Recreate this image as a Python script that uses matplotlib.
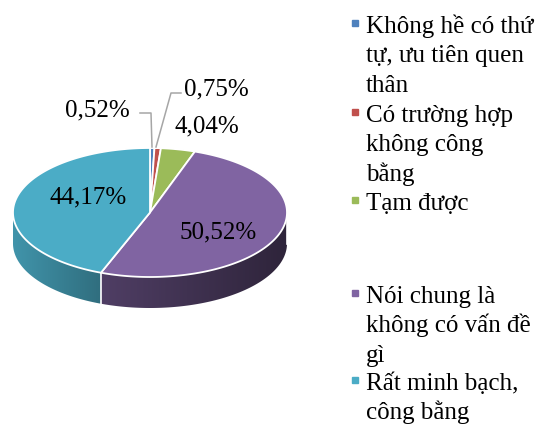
import numpy as np
import matplotlib
matplotlib.use("Agg")
import matplotlib.pyplot as plt
from matplotlib.colors import to_rgb

plt.rcParams['font.family'] = ['Liberation Serif', 'DejaVu Serif']

# data
labels = ["Không hề có thứ\ntự, ưu tiên quen\nthân",
          "Có trường hợp\nkhông công\nbằng",
          "Tạm được",
          "Nói chung là\nkhông có vấn đề\ngì",
          "Rất minh bạch,\ncông bằng"]
values = [0.52, 0.75, 4.04, 50.52, 44.17]
pct_text = ["0,52%", "0,75%", "4,04%", "50,52%", "44,17%"]
colors = ["#4F81BD", "#C0504D", "#9BBB59", "#8064A2", "#4BACC6"]

# layout (pixels)
W, H = 555, 429
cx, cy, rx, ry, depth = 150, 212.5, 137, 64.5, 31
label_pos = [(97, 116), (216, 95), (207, 132), (218, 238), (88, 203)]
leaders = {0: [(140, 113), (151, 113), (152, 147)],
           1: [(181, 93), (171, 93), (156, 147)]}
legend_x, legend_base = 366, [33, 122, 210, 303, 390]
line_h = 29.4

fig = plt.figure(figsize=(W / 100, H / 100), dpi=100)
ax = fig.add_axes([0, 0, 1, 1])
ax.set_xlim(0, W)
ax.set_ylim(H, 0)
ax.axis('off')


def ell(t):
    t = np.radians(t)
    return cx + rx * np.sin(t), cy - ry * np.cos(t)


total = sum(values)
bounds = np.concatenate([[0], np.cumsum(values) / total * 360])

# sides (front half only), gradient darker to the right
shade = {3: (0.62, 0.36), 4: (0.86, 0.64)}
for i in range(len(values)):
    a, b = max(bounds[i], 90), min(bounds[i + 1], 270)
    if a >= b:
        continue
    f0, f1 = shade.get(i, (0.7, 0.5))
    base = np.array(to_rgb(colors[i]))
    ts = np.linspace(a, b, 120)
    xs, ys = ell(ts)
    poly_x = np.r_[xs, xs[::-1]]
    poly_y = np.r_[ys, ys[::-1] + depth]
    patch = ax.fill(poly_x, poly_y, color='none', lw=0, zorder=1)[0]
    x0, x1 = xs.min(), xs.max()
    fr = np.linspace(0, 1, 256)
    if i == 4:
        fr = fr  # left bright -> right dark
    grad = base[None, None, :] * (f0 + (f1 - f0) * fr)[None, :, None]
    im = ax.imshow(grad, extent=(x0, x1, ys.max() + depth, ys.min()),
                   aspect='auto', interpolation='bilinear', zorder=1)
    im.set_clip_path(patch)
    xa, ya = ell(a)
    ax.plot([xa, xa], [ya, ya + depth], color='white', lw=1.2, zorder=1.5)

ax.set_xlim(0, W)
ax.set_ylim(H, 0)

# top faces
for i in range(len(values)):
    ts = np.linspace(bounds[i], bounds[i + 1], max(int(values[i] * 4), 4))
    xs, ys = ell(ts)
    ax.fill(np.r_[cx, xs], np.r_[cy, ys], color=colors[i], ec='white', lw=1.3,
            joinstyle='round', zorder=2)

# percentage labels
for i in range(len(values)):
    x, y = label_pos[i]
    ax.text(x, y, pct_text[i], fontsize=18, ha='center', va='baseline',
            color='black', zorder=4)
for i, pts in leaders.items():
    xs, ys = zip(*pts)
    ax.plot(xs, ys, color='#A6A6A6', lw=1.1, zorder=3)

# legend
for i, lab in enumerate(labels):
    b = legend_base[i]
    ax.add_patch(plt.Rectangle((352, b - 13.5), 6, 6, color=colors[i], zorder=3))
    for j, line in enumerate(lab.split("\n")):
        ax.text(legend_x, b + j * line_h, line, fontsize=18, ha='left',
                va='baseline', color='black')

fig.savefig("out.png", dpi=100)
